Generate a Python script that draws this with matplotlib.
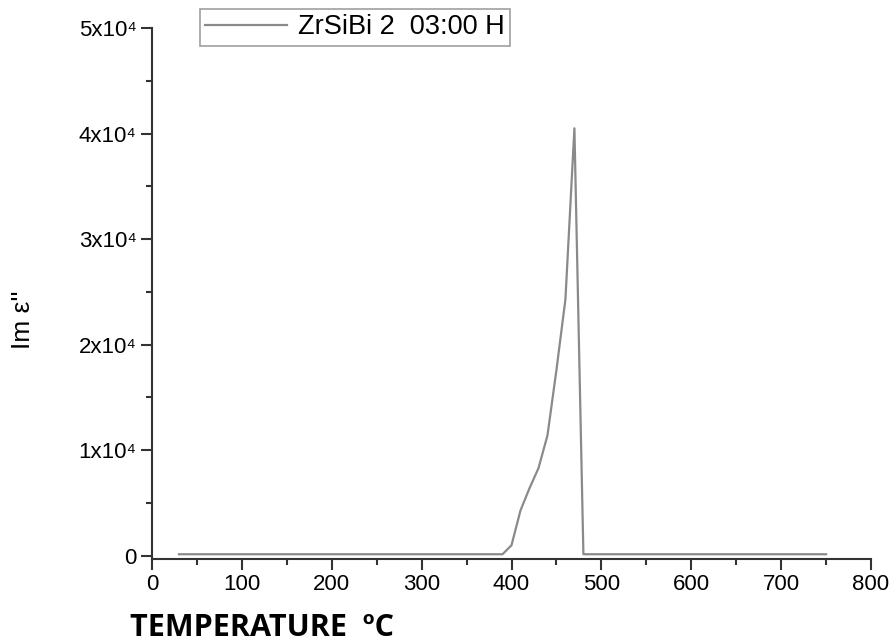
import matplotlib
matplotlib.use("Agg")
import matplotlib.pyplot as plt
from matplotlib.ticker import MultipleLocator, FuncFormatter

plt.rcParams['font.family'] = ['Liberation Sans', 'DejaVu Sans']

# Data
temperature = [30, 100, 200, 300, 390, 400, 410, 420, 430, 440, 450, 460, 470, 480, 500, 600, 700, 750]
im_eps = [150, 150, 150, 150, 150, 1000, 4300, 6400, 8300, 11400, 17600, 24300, 40500, 150, 150, 150, 150, 150]
series_label = "ZrSiBi 2  03:00 H"
x_label = "TEMPERATURE  ºC"
y_label = "Im ε''"

W, H = 893, 643
fig = plt.figure(figsize=(W / 100, H / 100), dpi=100)
ax = fig.add_axes([152 / W, 1 - 559 / H, (871 - 152) / W, (559 - 28) / H])

ax.plot(temperature, im_eps, color='#8a8a8a', lw=1.6, label=series_label)

ax.set_xlim(0, 800)
ax.set_ylim(-300, 50000)
for s in ['top', 'right']:
    ax.spines[s].set_visible(False)
for s in ['left', 'bottom']:
    ax.spines[s].set_linewidth(1.5)
    ax.spines[s].set_color('#333333')

ax.xaxis.set_major_locator(MultipleLocator(100))
ax.xaxis.set_minor_locator(MultipleLocator(50))
ax.yaxis.set_major_locator(MultipleLocator(10000))
ax.yaxis.set_minor_locator(MultipleLocator(5000))

def yfmt(v, pos):
    if abs(v) < 1:
        return "0"
    return f"{int(round(v / 10000))}x10\u2074"
ax.yaxis.set_major_formatter(FuncFormatter(yfmt))

ax.tick_params(which='major', direction='out', length=8, width=1.5, color='#333333', labelsize=16, pad=3)
ax.tick_params(which='minor', direction='out', length=4, width=1.5, color='#333333')

fig.text(23 / W, 1 - 320 / H, y_label, fontsize=19, rotation=90, va='center', ha='center')

fig.text(130 / W, 1 - 628 / H, x_label, fontsize=22, fontweight='bold',
         family=['Open Sans', 'DejaVu Sans'], va='center', ha='left')

leg = ax.legend(loc='upper left', bbox_to_anchor=(200 / W, 1 - 9 / H), bbox_transform=fig.transFigure,
                fontsize=19.5, frameon=True, fancybox=False, handlelength=3.0, borderpad=0.2,
                handletextpad=0.4, borderaxespad=0)
leg.get_frame().set_edgecolor('#888888')
leg.get_frame().set_linewidth(1.2)

fig.savefig("out.png", dpi=100)
